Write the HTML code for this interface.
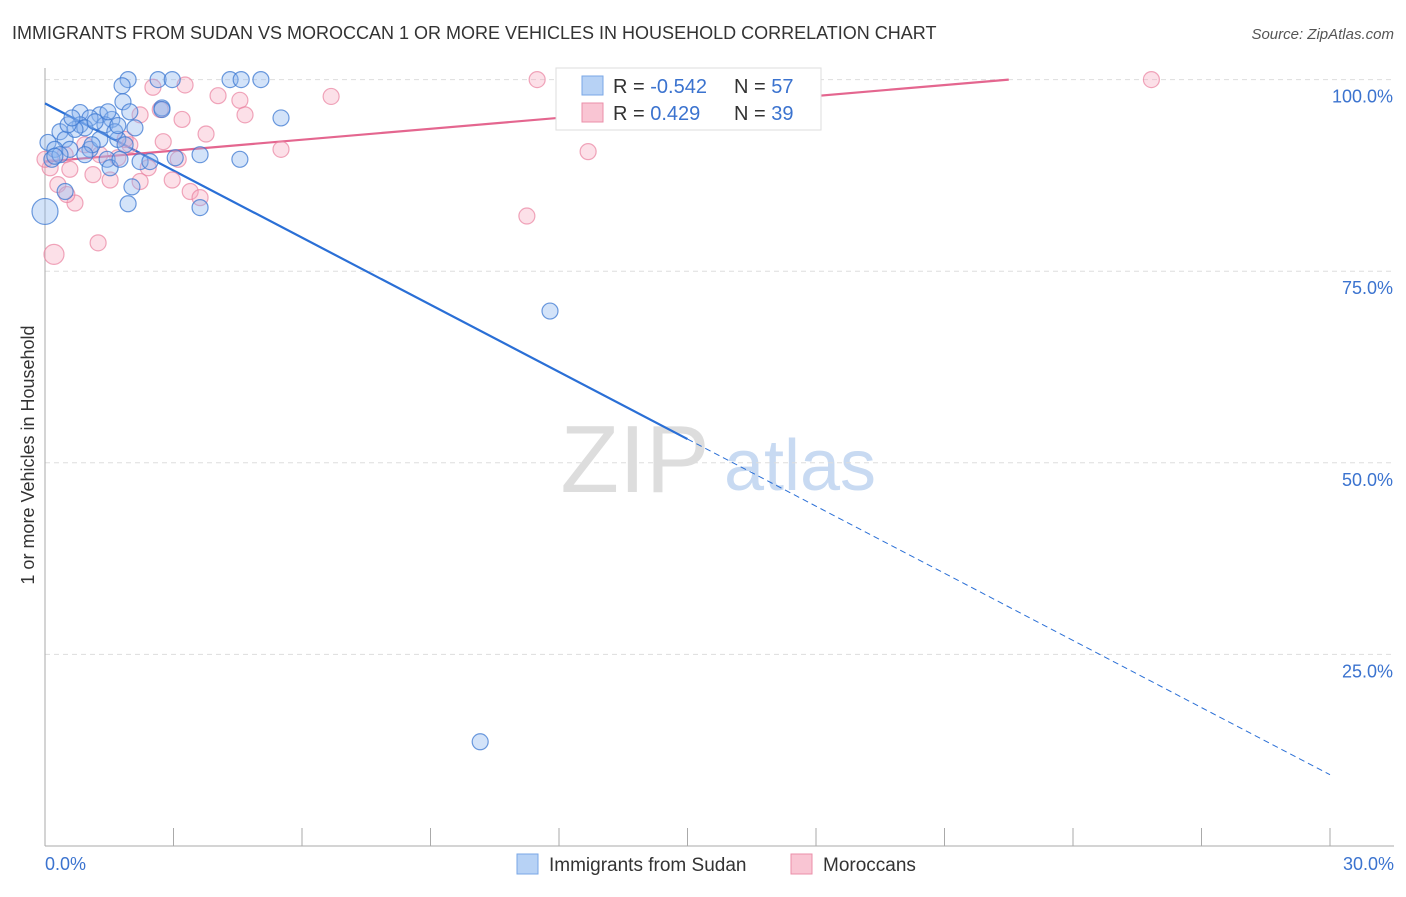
<!DOCTYPE html>
<html><head><meta charset="utf-8"><style>
body{margin:0;background:#fff;font-family:"Liberation Sans",sans-serif;}
svg text{font-family:"Liberation Sans",sans-serif;}
</style></head><body>
<svg id="chart" width="1406" height="892" xmlns="http://www.w3.org/2000/svg">
<text x="12" y="39" font-size="18" fill="#333">IMMIGRANTS FROM SUDAN VS MOROCCAN 1 OR MORE VEHICLES IN HOUSEHOLD CORRELATION CHART</text>
<text x="1394" y="39" font-size="15" fill="#555" text-anchor="end" font-style="italic">Source: ZipAtlas.com</text>
<text x="34" y="455" font-size="18" fill="#333" text-anchor="middle" transform="rotate(-90 34 455)">1 or more Vehicles in Household</text>
<g>
<text x="635" y="492" font-size="96" fill="#ddd" text-anchor="middle" font-family="Liberation Serif,serif">ZIP</text>
<text x="800" y="490" font-size="72" fill="#c8daf2" text-anchor="middle">atlas</text>
</g>
<g id="grid"></g><g id="axes"></g><g id="lines"></g><g id="pts"></g>
<g>
<rect x="556" y="68" width="265" height="62" fill="#fff" stroke="#ddd"/>
<rect x="582" y="76" width="21" height="19" fill="#b7d2f5" stroke="#7aa7e6"/>
<text x="613" y="93" font-size="20" fill="#333">R = <tspan fill="#3b73cf">-0.542</tspan></text>
<text x="734" y="93" font-size="20" fill="#333">N = <tspan fill="#3b73cf">57</tspan></text>
<rect x="582" y="103" width="21" height="19" fill="#f9c5d3" stroke="#eb8fa9"/>
<text x="613" y="120" font-size="20" fill="#333">R = <tspan fill="#3b73cf"> 0.429</tspan></text>
<text x="734" y="120" font-size="20" fill="#333">N = <tspan fill="#3b73cf">39</tspan></text>
</g>
<g>
<rect x="517" y="854" width="21" height="20" fill="#b7d2f5" stroke="#7aa7e6"/>
<text x="549" y="871" font-size="19" fill="#333">Immigrants from Sudan</text>
<rect x="791" y="854" width="21" height="20" fill="#f9c5d3" stroke="#eb8fa9"/>
<text x="823" y="871" font-size="19" fill="#333">Moroccans</text>
</g>
</svg>
<script>
const xTicks=[0,3,6,9,12,15,18,21,24,27,30];
const yTicks=[25,50,75,100];
const yTickLabels=["25.0%","50.0%","75.0%","100.0%"];
const xLabels=["0.0%","30.0%"];
const sudanX=[1.94,2.64,2.97,4.32,4.58,5.04,1.80,1.82,2.73,2.73,5.51,0.82,1.28,1.05,1.56,2.10,0.82,0.35,0.47,0.07,0.23,0.16,0.58,1.05,1.28,1.70,1.87,3.62,4.55,3.04,2.22,1.45,1.52,1.75,0.47,2.03,1.94,3.62,0,11.79,10.16,0.93,0.70,1.10,1.40,1.63,0.35,0.54,2.45,0.23,1.47,1.70,1.17,1.98,0.93,0.63];
const sudanY=[100,100,100,100,100,100,99.2,97.1,96.3,96.1,95.0,95.7,95.4,95.0,94.8,93.7,94.1,93.2,92.2,91.8,90.9,89.6,90.9,90.9,92.2,92.2,91.5,90.2,89.6,89.8,89.3,89.6,88.5,89.6,85.4,86.0,83.8,83.3,82.8,69.8,13.6,93.7,93.5,91.5,94.1,93.2,90.2,94.1,89.3,90.0,95.8,94.0,94.5,95.8,90.2,95.0];
const morX=[11.49,15.92,25.83,2.52,3.27,4.04,4.55,6.68,4.67,3.20,3.76,2.76,1.98,12.68,5.51,3.11,2.41,1.12,1.52,2.22,2.97,3.39,0.30,0.70,0.51,11.25,1.24,0.21,0.12,0.47,0.93,1.87,1.28,1.70,2.22,0.58,2.69,0,3.62];
const morY=[100,100,100,99.0,99.3,97.9,97.3,97.8,95.4,94.8,92.9,91.9,91.5,90.6,90.9,89.6,88.5,87.6,86.9,86.7,86.9,85.4,86.3,83.9,85.0,82.2,78.7,77.2,88.5,90.2,91.5,92.2,90.2,89.8,95.4,88.3,96.1,89.6,84.6];
const sudanTrend=[[0,96.9],[15,53.1],[30,9.3]];
const morTrend=[[0,89.3],[22.5,100]];
const X=v=>45+v/30*1285, Y=v=>846-v*7.664;
const NS="http://www.w3.org/2000/svg";
function mk(p,t,a){const e=document.createElementNS(NS,t);for(const k in a)e.setAttribute(k,a[k]);p.appendChild(e);return e;}
const grid=document.getElementById('grid'),axes=document.getElementById('axes'),lines=document.getElementById('lines'),pts=document.getElementById('pts');
yTicks.forEach((t,i)=>{
 const l=mk(grid,'line',{x1:45,x2:1394,y1:Y(t),y2:Y(t),stroke:'#ddd','stroke-dasharray':'5,4'});
 
 
 const tx=mk(axes,'text',{x:1393,y:Y(t)+23,'font-size':18,fill:'#3b73cf','text-anchor':'end'});tx.textContent=yTickLabels[i];
 
 
});
const ax=mk(axes,'line',{x1:45,x2:45,y1:68,y2:846,stroke:'#aaa'});


const bx=mk(axes,'line',{x1:45,x2:1394,y1:846,y2:846,stroke:'#aaa'});


xTicks.forEach(t=>{const l=mk(axes,'line',{x1:X(t),x2:X(t),y1:828,y2:846,stroke:'#aaa'});
 
 });
const xl0=mk(axes,'text',{x:45,y:870,'font-size':18,fill:'#3b73cf'});xl0.textContent=xLabels[0];


const xl1=mk(axes,'text',{x:1394,y:870,'font-size':18,fill:'#3b73cf','text-anchor':'end'});xl1.textContent=xLabels[1];


morX.forEach((x,i)=>{const c=mk(pts,'circle',{cx:X(x),cy:Y(morY[i]),r:i==27?10:8,fill:'rgba(246,167,190,0.35)',stroke:'rgba(234,130,160,0.7)','stroke-width':1.2});
 
 });
sudanX.forEach((x,i)=>{const c=mk(pts,'circle',{cx:X(x),cy:Y(sudanY[i]),r:i==38?13:8,fill:'rgba(140,182,238,0.38)',stroke:'rgba(60,120,210,0.75)','stroke-width':1.2});
 
 });
const s1=mk(lines,'line',{x1:X(sudanTrend[0][0]),y1:Y(sudanTrend[0][1]),x2:X(sudanTrend[1][0]),y2:Y(sudanTrend[1][1]),stroke:'#2a6fd6','stroke-width':2.2});


const s2=mk(lines,'line',{x1:X(sudanTrend[1][0]),y1:Y(sudanTrend[1][1]),x2:X(sudanTrend[2][0]),y2:Y(sudanTrend[2][1]),stroke:'#2a6fd6','stroke-width':1,'stroke-dasharray':'6,4'});


const m1=mk(lines,'line',{x1:X(morTrend[0][0]),y1:Y(morTrend[0][1]),x2:X(morTrend[1][0]),y2:Y(morTrend[1][1]),stroke:'#e4668f','stroke-width':2.2});


</script>
</body></html>
